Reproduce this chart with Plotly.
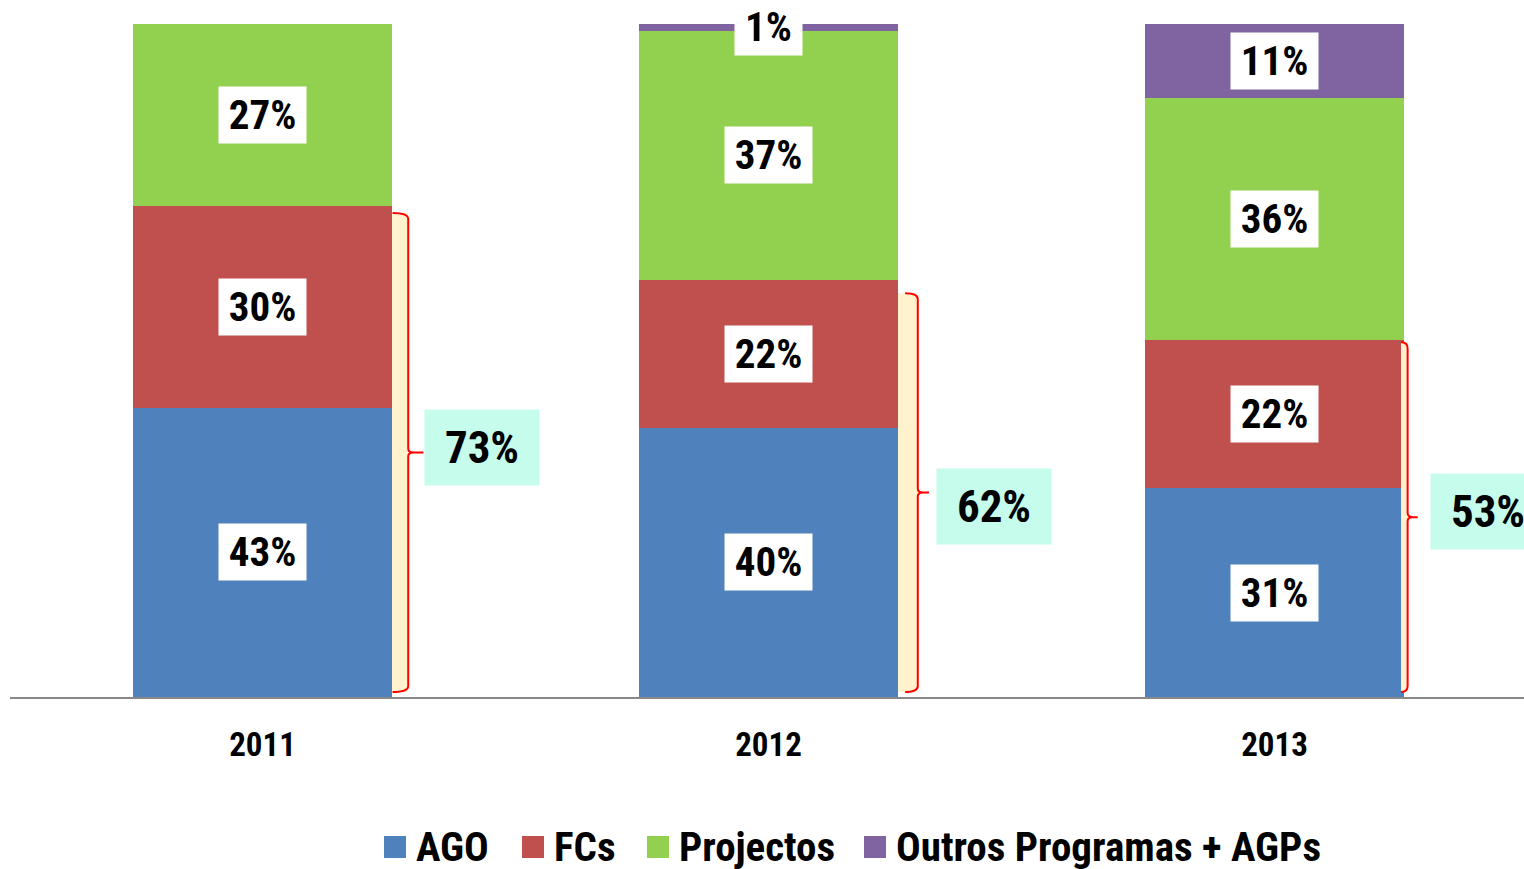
import plotly.graph_objects as go

# ---- data ----
years = ["2011", "2012", "2013"]
series_names = ["AGO", "FCs", "Projectos", "Outros Programas + AGPs"]
ago = [43, 40, 31]
fcs = [30, 22, 22]
projectos = [27, 37, 36]
outros = [0, 1, 11]
series_values = [ago, fcs, projectos, outros]

# ---- style ----
colors = ["#4F81BD", "#C0504D", "#92D050", "#8064A2"]
FONT = "Liberation Sans Narrow, Arial Narrow, Roboto Condensed, Arial, sans-serif"
BAR_W = 0.512
W, H = 1524, 869
ML, MR, MT, MB = 10, 0, 24, 172
XRANGE = [-0.499, 2.493]
brace_line_off = [0.288, 0.295, 0.263]
brace_start_off = [0.257, 0.270, 0.250]
brace_tip_off = [0.318, 0.317, 0.283]
brace_top_inset = [1.1, 2.0, 0.3]
brace_label_off = [0.433, 0.446, 0.422]
brace_label_dy = [0.8, -2.0, 0.9]

xs = list(range(len(years)))
fig = go.Figure()
for name, vals, col in zip(series_names, series_values, colors):
    fig.add_trace(go.Bar(x=xs, y=vals, name=name, marker=dict(color=col, line=dict(width=0)),
                         width=BAR_W, showlegend=False, hoverinfo="skip"))

annotations = []
# segment labels
for i in xs:
    base = 0
    for vals in series_values:
        v = vals[i]
        if v > 0:
            txt = f"{v}%"
            annotations.append(dict(x=i, y=base + v / 2, xref="x", yref="y", text=f"<b>{txt}</b>",
                                    showarrow=False, bgcolor="white", borderpad=5,
                                    width=20 * len(txt) + 17, height=46,
                                    font=dict(family=FONT, size=41, color="black")))
        base += v

shapes = []
for i in xs:
    s = ago[i] + fcs[i]
    yb = 0.75
    yt = s - brace_top_inset[i]
    ym = (yb + yt) / 2
    xl = i + brace_line_off[i]
    xs0 = i + brace_start_off[i]
    xt = i + brace_tip_off[i]
    r = 0.9
    bar_edge = i + BAR_W / 2
    shapes.append(dict(type="rect", xref="x", yref="y", x0=min(bar_edge, xs0), x1=xl, y0=yb, y1=yt,
                       fillcolor="#FFF2CC", line=dict(width=0), layer="above"))
    path = (f"M {xs0},{yt} Q {xl},{yt} {xl},{yt - r} "
            f"L {xl},{ym + 0.6} Q {xl},{ym} {xl + 0.01},{ym} L {xt},{ym} "
            f"M {xl + 0.01},{ym} Q {xl},{ym} {xl},{ym - 0.6} "
            f"L {xl},{yb + r} Q {xl},{yb} {xs0},{yb}")
    shapes.append(dict(type="path", xref="x", yref="y", path=path,
                       line=dict(color="#FF0000", width=2), layer="above"))
    annotations.append(dict(x=i + brace_label_off[i], y=ym + brace_label_dy[i], xref="x", yref="y",
                            text=f"<b>{s}%</b>", showarrow=False, bgcolor="#C6FCEC",
                            borderpad=5, width=104, height=65,
                            font=dict(family=FONT, size=45, color="black")))

# manual legend
plot_h = H - MT - MB
plot_w = W - ML - MR
legend_marker_px = [384, 522, 647, 864]
sq = 22
leg_cy = 847
for name, col, mx in zip(series_names, colors, legend_marker_px):
    shapes.append(dict(type="rect", xref="paper", yref="paper",
                       x0=(mx - ML) / plot_w, x1=(mx + sq - ML) / plot_w,
                       y0=(H - MB - (leg_cy + sq / 2)) / plot_h, y1=(H - MB - (leg_cy - sq / 2)) / plot_h,
                       fillcolor=col, line=dict(width=0)))
    annotations.append(dict(x=(mx + sq + 8 - ML) / plot_w, y=(H - MB - leg_cy) / plot_h,
                            xref="paper", yref="paper", xanchor="left", yanchor="middle",
                            text=f"<b>{name}</b>", showarrow=False,
                            font=dict(family=FONT, size=41, color="black")))

fig.update_layout(
    barmode="stack",
    width=W, height=H,
    margin=dict(l=ML, r=MR, t=MT, b=MB),
    plot_bgcolor="white", paper_bgcolor="white",
    showlegend=False,
    shapes=shapes, annotations=annotations,
    xaxis=dict(range=XRANGE, tickvals=xs, ticktext=years, showline=True, linecolor="#888888",
               linewidth=2, showgrid=False, zeroline=False, ticks="", ticklabelstandoff=17,
               tickfont=dict(family=FONT, size=33, color="black", weight="bold")),
    yaxis=dict(range=[0, 100], visible=False, showgrid=False, zeroline=False),
)
fig.write_html("out.html", config={"displayModeBar": False},
               post_script="document.body.style.margin='0';document.body.style.overflow='hidden';")
